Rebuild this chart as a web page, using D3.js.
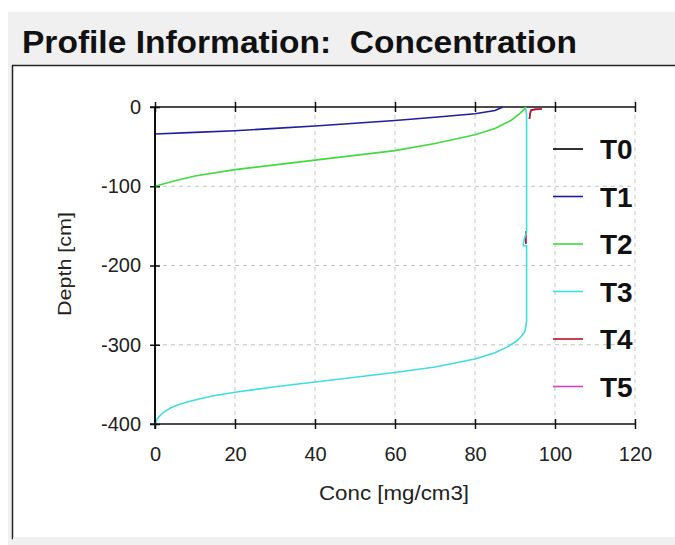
<!DOCTYPE html>
<html>
<head>
<meta charset="utf-8">
<script src="https://cdn.jsdelivr.net/npm/d3@7"></script>
<style>
  body { margin: 0; background: #fff; }
  svg { display: block; font-family: "Liberation Sans", Arial, sans-serif; }
</style>
</head>
<body>
<svg width="675" height="545"></svg>
<script>
// series names and colours
let seriesNames = ['T0', 'T1', 'T2', 'T3', 'T4', 'T5'];
let seriesColors = ['#000000', '#1f1f9e', '#3fdc3f', '#3fdede', '#b3121f', '#cc44cc'];

// each series: [conc, depth] pairs, null = gap
let t0 = [[0, 0], [0, -400]];
let t1 = [[0, -34], [10, -32], [20, -30], [30, -27], [40, -24], [50, -20.5], [60, -17],
	[70, -13], [80, -8.5], [85, -4.5], [87, 0]];
let t2 = [[0, -100], [5, -93], [10, -87], [20, -79], [30, -73], [40, -67], [50, -61],
	[60, -55], [70, -46], [80, -35], [85, -27], [89, -17], [91, -9], [92.3, -3], [92.8, 0]];
let t3 = [[0, -400], [0.3, -396], [0.8, -392], [1.5, -388], [2.5, -384], [4, -379.5],
	[6, -375.5], [8.5, -371.5], [11, -368.5], [15, -364], [20, -360], [30, -353],
	[40, -347], [50, -341], [60, -335], [70, -328], [80, -318], [85, -310], [88, -303],
	[90.5, -295], [91.5, -290], [92.5, -283], [92.9, -270],
	[92.9, -175], [92.1, -175], [92.1, -171], [92.9, -157], [92.9, -10], [92.7, -3], [92.5, 0]];
let t4 = [[93.6, -15], [93.8, -8], [94, -4], [95, -3], [96.7, -2.5], null,
	[92.7, -157], [92.7, -173]];
let t5 = t4.slice();
let seriesData = [t0, t1, t2, t3, t4, t5];

let xTicks = [0, 20, 40, 60, 80, 100, 120];
let yTicks = [0, -100, -200, -300, -400];
let gridX = [20, 40, 60, 80, 100, 120];
let gridY = [-100, -200, -300];

let svg = d3.select('svg');
let plotLeft = 155, plotRight = 635, plotTop = 107, plotBottom = 424;

let x = d3.scaleLinear().domain([0, 120]).range([plotLeft, plotRight]);
let y = d3.scaleLinear().domain([-400, 0]).range([plotBottom, plotTop]);

// window background + panel
svg.append('rect').attr('x', 8).attr('y', 12).attr('width', 667).attr('height', 533).attr('fill', '#f0f0f0');
svg.append('rect').attr('x', 12.5).attr('y', 65.5).attr('width', 670).attr('height', 473)
	.attr('fill', '#fff').attr('stroke', '#222').attr('stroke-width', 1.5);
svg.append('rect').attr('x', 13).attr('y', 537).attr('width', 662).attr('height', 8).attr('fill', '#f0f0f0');

svg.append('text')
	.attr('x', 22).attr('y', 53)
	.attr('font-size', 31).attr('font-weight', 'bold').attr('fill', '#111')
	.attr('textLength', 555).attr('lengthAdjust', 'spacingAndGlyphs')
	.style('white-space', 'pre')
	.text('Profile Information:  Concentration');

// grid
let grid = svg.append('g').attr('stroke', '#c4c4c4').attr('stroke-dasharray', '4,4').attr('stroke-width', 1);
grid.selectAll('.gx').data(gridX).join('line')
	.attr('x1', d => x(d)).attr('x2', d => x(d))
	.attr('y1', plotTop - 8).attr('y2', plotBottom);
grid.selectAll('.gy').data(gridY).join('line')
	.attr('x1', plotLeft).attr('x2', plotRight)
	.attr('y1', d => y(d)).attr('y2', d => y(d));

// axes (plain hyphen for negatives, like the original)
let fmt = d => String(d);
let xAxisB = d3.axisBottom(x).tickValues(xTicks).tickSize(5).tickPadding(18).tickFormat(fmt);
let gB = svg.append('g').attr('transform', `translate(0,${plotBottom})`).call(xAxisB);
let xAxisT = d3.axisTop(x).tickValues(xTicks).tickSize(5).tickFormat('');
let gT = svg.append('g').attr('transform', `translate(0,${plotTop})`).call(xAxisT);
let yAxis = d3.axisLeft(y).tickValues(yTicks).tickSize(5).tickPadding(9).tickFormat(fmt);
let gL = svg.append('g').attr('transform', `translate(${plotLeft},0)`).call(yAxis);

[gB, gT, gL].forEach(g => {
	g.select('.domain').remove();
	g.selectAll('.tick line').attr('stroke', '#111').attr('stroke-width', 1.5);
	g.selectAll('.tick text').attr('font-size', 20).attr('fill', '#222')
		.attr('font-family', '"Liberation Sans", Arial, sans-serif');
});
gB.selectAll('.tick line').attr('y1', -5);
gT.selectAll('.tick line').attr('y1', 5);
gL.selectAll('.tick line').attr('x1', 5);

svg.append('line').attr('x1', plotLeft - 5).attr('x2', plotRight).attr('y1', plotTop).attr('y2', plotTop)
	.attr('stroke', '#111').attr('stroke-width', 1.5);
svg.append('line').attr('x1', plotLeft - 5).attr('x2', plotRight).attr('y1', plotBottom).attr('y2', plotBottom)
	.attr('stroke', '#111').attr('stroke-width', 1.5);
svg.append('line').attr('x1', plotLeft).attr('x2', plotLeft).attr('y1', plotTop).attr('y2', plotBottom + 5)
	.attr('stroke', '#111').attr('stroke-width', 1.5);

svg.append('text')
	.attr('x', 394).attr('y', 500)
	.attr('text-anchor', 'middle').attr('font-size', 20).attr('fill', '#222')
	.attr('textLength', 150).attr('lengthAdjust', 'spacingAndGlyphs')
	.text('Conc [mg/cm3]');
svg.append('text')
	.attr('transform', `translate(71,264) rotate(-90)`)
	.attr('text-anchor', 'middle').attr('font-size', 19).attr('fill', '#222')
	.attr('textLength', 104).attr('lengthAdjust', 'spacingAndGlyphs')
	.text('Depth [cm]');

// lines, drawn last-first so lower series sit on top
let line = d3.line()
	.defined(d => d !== null)
	.x(d => x(d[0]))
	.y(d => y(d[1]));

let order = d3.range(seriesNames.length).reverse();
svg.append('g').selectAll('path')
	.data(order)
	.join('path')
	.attr('d', i => line(seriesData[i]))
	.attr('fill', 'none')
	.attr('stroke', i => seriesColors[i])
	.attr('stroke-width', 1.6);

// legend
let leg = svg.append('g').selectAll('g')
	.data(seriesNames)
	.join('g')
	.attr('transform', (d, i) => `translate(553,${149 + i * 47.5})`);
leg.append('line').attr('x1', 0).attr('x2', 30)
	.attr('stroke', (d, i) => seriesColors[i]).attr('stroke-width', 1.6);
leg.append('text')
	.attr('x', 47).attr('dy', '0.36em')
	.attr('font-size', 28).attr('font-weight', 'bold').attr('fill', '#111')
	.text(d => d);
</script>
</body>
</html>
